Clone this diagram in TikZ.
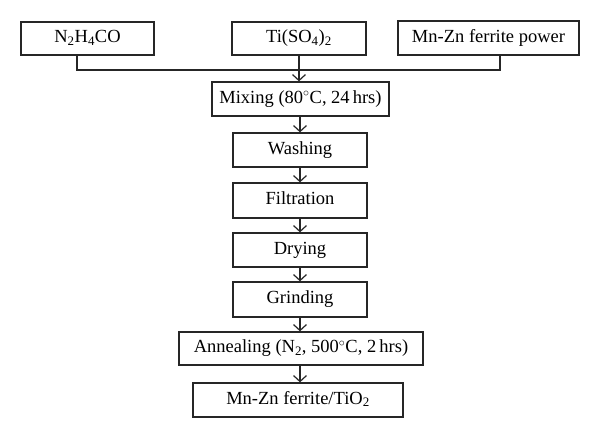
\documentclass[tikz,border=0pt]{standalone}
\usepackage{amsmath}
\usepackage{fontspec}
\setmainfont{Liberation Serif}
\usepackage{tikz}
\usetikzlibrary{arrows.meta}
\usetikzlibrary{calc}

\begin{document}
\begin{tikzpicture}[x=1pt,y=-1pt,font=\fontsize{18.5}{21}\selectfont,
  stepbox/.style={draw,color=black!85,text=black,line width=1.3pt,inner sep=0pt,
    text height=12.5pt,text depth=4pt,minimum height=33pt},
  flow/.style={color=black!85,line width=1.2pt,-{Straight Barb[length=6pt,width=13pt]}}]
\useasboundingbox (0,0) rectangle (600,437);
\path (87.5,38.5) node(urea) [stepbox,minimum width=133pt] {N\textsubscript{2}H\textsubscript{4}CO};
\path (299,38.5) node(tiso) [stepbox,minimum width=134pt] {Ti(SO\textsubscript{4})\textsubscript{2}};
\path (488.5,38) node(ferrite) [stepbox,minimum width=181pt,minimum height=34pt] {Mn-Zn ferrite power};
\path (300.5,99) node(mix) [stepbox,minimum width=177pt,minimum height=34pt] {Mixing (80$^\circ$C, 24\,hrs)};
\path (300,150) node(wash) [stepbox,minimum width=134pt,minimum height=34pt] {Washing};
\path (300,200.5) node(filt) [stepbox,minimum width=134pt,minimum height=35pt] {Filtration};
\path (300,250) node(dry) [stepbox,minimum width=134pt,minimum height=34pt] {Drying};
\path (300,299.5) node(grind) [stepbox,minimum width=134pt,minimum height=35pt] {Grinding};
\path (301,348.5) node(anneal) [stepbox,minimum width=244pt] {Annealing (N\textsubscript{2}, 500$^\circ$C, 2\,hrs)};
\path (298,400) node(prod) [stepbox,minimum width=210pt,minimum height=34pt] {Mn-Zn ferrite/TiO\textsubscript{2}};
% joining line of the three inputs
\coordinate (jl) at (77,70);
\coordinate (jr) at (500,70);
\draw[color=black!85,line width=1.2pt] (urea.south -| jl) -- (jl) -- (jr) -- (ferrite.south -| jr);
\draw[flow] (tiso.south) -- (tiso.south |- mix.north);
% process chain
\draw[flow] (mix.south -| wash) -- (wash.north);
\draw[flow] (wash) -- (filt);
\draw[flow] (filt) -- (dry);
\draw[flow] (dry) -- (grind);
\draw[flow] (grind.south) -- (grind.south |- anneal.north);
\draw[flow] (anneal.south -| grind) -- (prod.north -| grind);
\end{tikzpicture}
\end{document}
